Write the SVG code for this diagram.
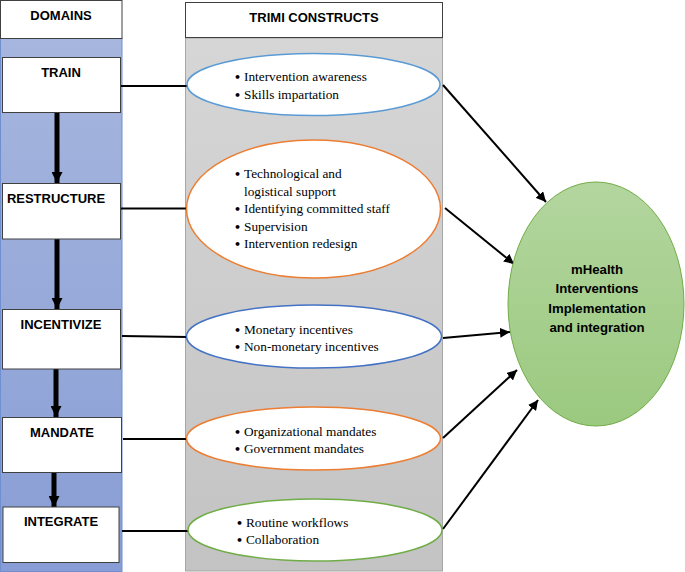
<svg xmlns="http://www.w3.org/2000/svg" width="685" height="572" viewBox="0 0 685 572">
<defs>
<linearGradient id="gBlue" x1="0" y1="0" x2="0" y2="1">
<stop offset="0" stop-color="#a6b6de"/>
<stop offset="1" stop-color="#889dd5"/>
</linearGradient>
<linearGradient id="gGray" x1="0" y1="0" x2="0" y2="1">
<stop offset="0" stop-color="#d6d6d6"/>
<stop offset="1" stop-color="#c3c3c3"/>
</linearGradient>
<linearGradient id="gGreen" x1="0" y1="0" x2="0" y2="1">
<stop offset="0" stop-color="#b3d69f"/>
<stop offset="1" stop-color="#9bc97f"/>
</linearGradient>
<marker id="ah" viewBox="0 0 10 10" refX="10" refY="5" markerWidth="5" markerHeight="5" orient="auto" markerUnits="strokeWidth">
<path d="M0,0 L10,5 L0,10 z" fill="#000"/>
</marker>
<marker id="ahd" viewBox="0 0 10 10" refX="10" refY="5" markerWidth="2.2" markerHeight="2.2" orient="auto" markerUnits="strokeWidth">
<path d="M0,0 L10,5 L0,10 z" fill="#000"/>
</marker>
</defs>
<style>
.hdr{fill:#fff;stroke:#404040;stroke-width:1}
.dbox{fill:#fff;stroke:#404040;stroke-width:1}
.dlab{font-family:"Liberation Sans",Arial,sans-serif;font-weight:bold;font-size:13px;fill:#000;text-anchor:middle}
.item{font-family:"Liberation Serif","Times New Roman",serif;font-size:13.3px;fill:#000}
.bul{font-family:"DejaVu Sans",sans-serif;font-size:11px;font-weight:bold}
.ell{fill:#fff;stroke-width:1.5}
.conn{stroke:#000;stroke-width:2;fill:none}
.down{stroke:#000;stroke-width:5;fill:none}
.big{font-family:"Liberation Sans",Arial,sans-serif;font-weight:bold;font-size:13.2px;fill:#000;text-anchor:middle}
</style>

<g id="col-domains">
<rect x="0.5" y="38.5" width="121.5" height="533" fill="url(#gBlue)" stroke="#6f8fd0" stroke-width="1"/>
<rect class="hdr" x="0.5" y="0.5" width="121.5" height="38"/>
<text class="dlab" x="61" y="20">DOMAINS</text>
</g>
<g id="col-trimi">
<rect x="185.5" y="38" width="257" height="533" fill="url(#gGray)" stroke="#a6a6a6" stroke-width="1"/>
<rect class="hdr" x="185.5" y="2.5" width="257" height="35"/>
<text class="dlab" x="314" y="22">TRIMI CONSTRUCTS</text>
</g>

<g id="connectors">
<line class="conn" x1="121" y1="86" x2="188" y2="86"/>
<line class="conn" x1="121" y1="208.5" x2="188" y2="208.5"/>
<line class="conn" x1="122" y1="336" x2="188" y2="337"/>
<line class="conn" x1="123" y1="439" x2="188" y2="439"/>
<line class="conn" x1="122" y1="531" x2="190" y2="531"/>
<line class="down" x1="57" y1="113" x2="57" y2="183" marker-end="url(#ahd)"/>
<line class="down" x1="57" y1="239" x2="57" y2="309" marker-end="url(#ahd)"/>
<line class="down" x1="56" y1="369" x2="56" y2="417" marker-end="url(#ahd)"/>
<line class="down" x1="54" y1="473" x2="54" y2="507" marker-end="url(#ahd)"/>
<line class="conn" x1="443" y1="85" x2="546" y2="202" marker-end="url(#ah)"/>
<line class="conn" x1="445" y1="208" x2="514" y2="264" marker-end="url(#ah)"/>
<line class="conn" x1="443" y1="338" x2="510" y2="332" marker-end="url(#ah)"/>
<line class="conn" x1="443" y1="438" x2="517" y2="370" marker-end="url(#ah)"/>
<line class="conn" x1="443" y1="529" x2="538" y2="400" marker-end="url(#ah)"/>
</g>

<g id="train">
<rect class="dbox" x="2.5" y="57.5" width="118" height="55"/>
<text class="dlab" x="61" y="77">TRAIN</text>
</g>
<g id="restructure">
<rect class="dbox" x="2.5" y="183.5" width="118" height="55.5"/>
<text class="dlab" x="56" y="202.5">RESTRUCTURE</text>
</g>
<g id="incentivize">
<rect class="dbox" x="2.5" y="309.5" width="118" height="59.5"/>
<text class="dlab" x="61" y="329">INCENTIVIZE</text>
</g>
<g id="mandate">
<rect class="dbox" x="2.5" y="417.5" width="119" height="55"/>
<text class="dlab" x="62" y="437">MANDATE</text>
</g>
<g id="integrate">
<rect class="dbox" x="3" y="507" width="116" height="55.5"/>
<text class="dlab" x="61" y="526">INTEGRATE</text>
</g>

<g id="c-train">
<ellipse class="ell" cx="313.5" cy="84.5" rx="126.5" ry="31" stroke="#5b9bd5"/>
<text class="item" x="234" y="81"><tspan class="bul">•</tspan><tspan x="244">Intervention awareness</tspan></text>
<text class="item" x="234" y="98.5"><tspan class="bul">•</tspan><tspan x="244">Skills impartation</tspan></text>
</g>
<g id="c-restructure">
<ellipse class="ell" cx="313.5" cy="209" rx="127" ry="69" stroke="#ed7d31"/>
<text class="item" x="234" y="178"><tspan class="bul">•</tspan><tspan x="244">Technological and</tspan></text>
<text class="item" x="244" y="195.5">logistical support</text>
<text class="item" x="234" y="213"><tspan class="bul">•</tspan><tspan x="244">Identifying committed staff</tspan></text>
<text class="item" x="234" y="230.5"><tspan class="bul">•</tspan><tspan x="244">Supervision</tspan></text>
<text class="item" x="234" y="248"><tspan class="bul">•</tspan><tspan x="244">Intervention redesign</tspan></text>
</g>
<g id="c-incentivize">
<ellipse class="ell" cx="314" cy="336.5" rx="127.5" ry="31.5" stroke="#4472c4"/>
<text class="item" x="234" y="333.5"><tspan class="bul">•</tspan><tspan x="244">Monetary incentives</tspan></text>
<text class="item" x="234" y="351"><tspan class="bul">•</tspan><tspan x="244">Non-monetary incentives</tspan></text>
</g>
<g id="c-mandate">
<ellipse class="ell" cx="313.5" cy="438.5" rx="127" ry="31.5" stroke="#ed7d31"/>
<text class="item" x="234" y="435.5"><tspan class="bul">•</tspan><tspan x="244">Organizational mandates</tspan></text>
<text class="item" x="234" y="453"><tspan class="bul">•</tspan><tspan x="244">Government mandates</tspan></text>
</g>
<g id="c-integrate">
<ellipse class="ell" cx="315" cy="530" rx="127" ry="31" stroke="#70ad47"/>
<text class="item" x="236" y="526.5"><tspan class="bul">•</tspan><tspan x="246">Routine workflows</tspan></text>
<text class="item" x="236" y="544"><tspan class="bul">•</tspan><tspan x="246">Collaboration</tspan></text>
</g>

<g id="outcome">
<ellipse cx="596" cy="304" rx="88" ry="122" fill="url(#gGreen)" stroke="#70ad47" stroke-width="1"/>
<text class="big" x="597" y="273.5">mHealth</text>
<text class="big" x="597" y="293">Interventions</text>
<text class="big" x="597" y="312.5">Implementation</text>
<text class="big" x="597" y="332">and integration</text>
</g>
</svg>
